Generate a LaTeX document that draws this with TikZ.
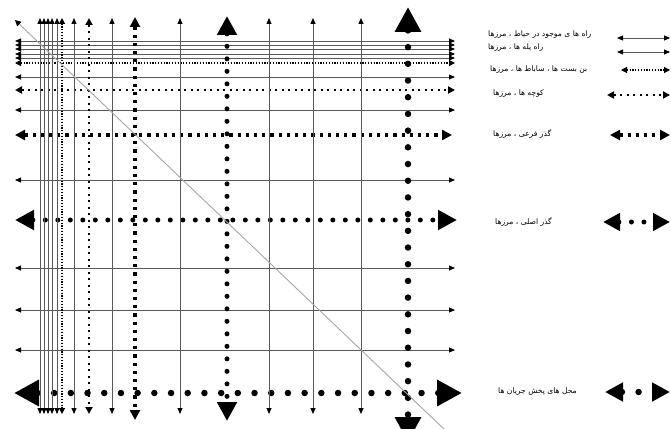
\documentclass[tikz,border=0pt]{standalone}
\usepackage{fontspec}
\newfontfamily\farsi[Script=Arabic]{DejaVu Sans}
\TeXXeTstate=1
\usetikzlibrary{arrows.meta}

\tikzset{
  yardway/.style={draw=black!65,line width=0.8pt,
    arrows={Triangle[length=6pt,width=5pt,color=black]-Triangle[length=6pt,width=5pt,color=black]}},
  deadend/.style={draw=black,line width=1.2pt,dash pattern=on 1.2pt off 1.6pt,
    arrows={Triangle[length=6pt,width=6pt]-Triangle[length=6pt,width=6pt]}},
  alley/.style={draw=black,line width=2pt,dash pattern=on 2pt off 4.5pt,
    arrows={Triangle[length=7pt,width=7pt]-Triangle[length=7pt,width=7pt]}},
  subpass/.style={draw=black,line width=3.2pt,dash pattern=on 3.2pt off 5pt,
    arrows={Triangle[length=10pt,width=10pt]-Triangle[length=10pt,width=10pt]}},
  mainpass/.style={draw=black,line width=5pt,line cap=round,dash pattern=on 0pt off 12.5pt,
    arrows={Triangle[length=#1,width=#1]-Triangle[length=#1,width=#1]}},
  mainpass/.default=19pt,
  hubpass/.style={draw=black,line width=6.5pt,line cap=round,dash pattern=on 0pt off 16.7pt,
    arrows={Triangle[length=#1,width=#1]-Triangle[length=#1,width=#1]}},
  hubpass/.default=25pt,
  legtext/.style={anchor=west,inner sep=0pt,font=\farsi\fontsize{7.6}{8}\selectfont}
}

\begin{document}
\begin{tikzpicture}[x=1pt,y=-1pt]
  \useasboundingbox (0,0) rectangle (671,428);

  % horizontal ways
  \foreach \y in {41,45,49,54,58,77,110,180,268,310,350}
    \draw[yardway] (15,\y) -- (455,\y);
  \draw[deadend] (15,63) -- (455,63);
  \draw[alley] (15,90) -- (455,90);
  \draw[subpass] (15,135) -- (452,135);
  \draw[mainpass] (15,220) -- (457,220);
  \draw[hubpass] (14,393) -- (462,393);

  % vertical ways
  \foreach \x in {40,44,48,52,57,74,112,180,269,313,361}
    \draw[yardway] (\x,18) -- (\x,414);
  \draw[deadend] (62,18) -- (62,414);
  \draw[alley] (89,18) -- (89,414);
  \draw[subpass] (135,17) -- (135,420);
  \draw[mainpass] (227,16) -- (227,421);
  \draw[hubpass] (408,7) -- (408,442);

  % diagonal
  \draw[black!35,line width=0.9pt,{Triangle[length=6pt,width=6pt,color=black]}-] (15,20) -- (445,430);

  % legend
  \node[legtext] (yard) at (488,35) {\beginR راه ها ی موجود در حیاط ، مرزها\endR};
  \draw[yardway] (617,38) -- (670,38);
  \node[legtext] (stair) at (488,48) {\beginR راه پله ها ، مرزها\endR};
  \draw[yardway] (617,52) -- (670,52);
  \node[legtext] (dead) at (490,70) {\beginR بن بست ها ، ساباط ها ، مرزها\endR};
  \draw[deadend] (621,70) -- (670,70);
  \node[legtext] (lane) at (493,94) {\beginR کوچه ها ، مرزها\endR};
  \draw[alley] (607,95) -- (670,95);
  \node[legtext] (sub) at (493,134) {\beginR گذر فرعی ، مرزها\endR};
  \draw[subpass] (610,135) -- (670,135);
  \node[legtext] (main) at (495,222) {\beginR گذر اصلی ، مرزها\endR};
  \draw[mainpass=17pt] (603,222) -- (670,222);
  \node[legtext] (hub) at (498,392) {\beginR محل های پخش جریان ها\endR};
  \draw[hubpass=18pt] (605,392) -- (670,392);
\end{tikzpicture}
\end{document}
